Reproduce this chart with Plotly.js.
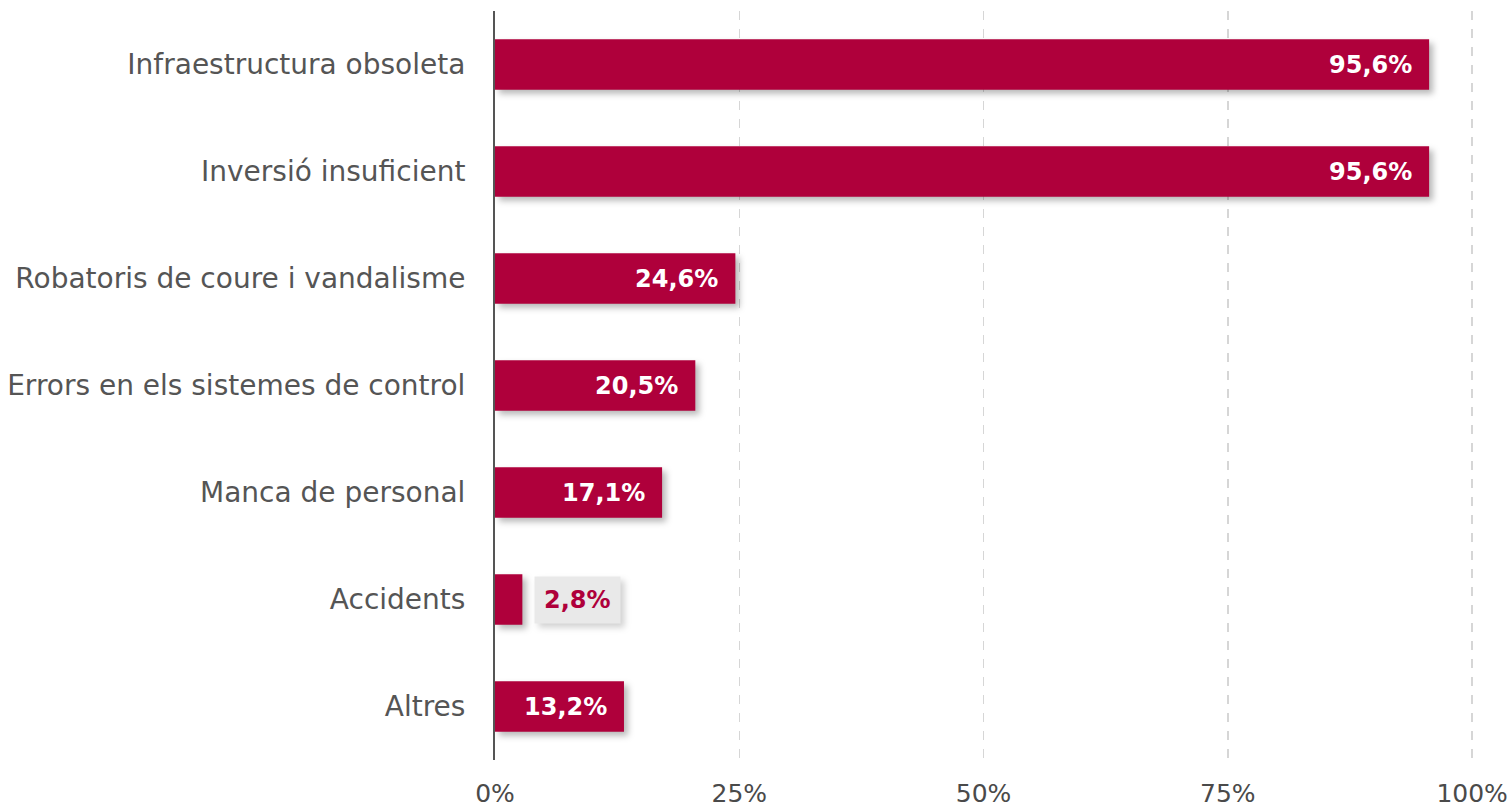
<!DOCTYPE html>
<html>
<head>
<meta charset="utf-8">
<script src="https://cdn.plot.ly/plotly-3.0.1.min.js"></script>
<style>
html,body{margin:0;padding:0;background:#fff;}
#chart{width:1510px;height:809px;}
.trace.bars path{filter:drop-shadow(4px 4px 3px rgba(0,0,0,0.28));}
.annotation.boxed rect{filter:drop-shadow(4px 4px 3px rgba(0,0,0,0.18));}
</style>
</head>
<body>
<div id="chart"></div>
<script>
const categories = ["Infraestructura obsoleta","Inversió insuficient","Robatoris de coure i vandalisme","Errors en els sistemes de control","Manca de personal","Accidents","Altres"];
const values = [95.6, 95.6, 24.6, 20.5, 17.1, 2.8, 13.2];
const labels = ["95,6%","95,6%","24,6%","20,5%","17,1%","2,8%","13,2%"];
const tickVals = [0, 25, 50, 75, 100];
const tickText = ["0%","25%","50%","75%","100%"];

const red = "#AF003B";
const FONT = "'DejaVu Sans', sans-serif";

const trace = {
  type: "bar",
  orientation: "h",
  x: values,
  y: categories,
  width: 0.47,
  marker: {color: red},
  hoverinfo: "none"
};

const annotations = values.map((v, i) => {
  const small = v < 5;
  return small ? {
    x: v, y: categories[i], xref: "x", yref: "y",
    text: "<b>" + labels[i] + "</b>",
    showarrow: false, xanchor: "left", xshift: 12,
    font: {family: FONT, size: 24, color: red},
    bgcolor: "#e9e9e9", borderpad: 9
  } : {
    x: v, y: categories[i], xref: "x", yref: "y",
    text: "<b>" + labels[i] + "</b>",
    showarrow: false, xanchor: "right", xshift: -15,
    font: {family: FONT, size: 24, color: "#ffffff"}
  };
});

const layout = {
  width: 1510, height: 809,
  margin: {l: 495, r: 33, t: 11, b: 49},
  paper_bgcolor: "#fff", plot_bgcolor: "#fff",
  showlegend: false,
  xaxis: {
    range: [0, 100.5],
    tickvals: tickVals, ticktext: tickText,
    showgrid: true, gridcolor: "#d6d6d6", griddash: "dash", gridwidth: 1.5,
    zeroline: false, showline: false,
    ticks: "", ticklabelstandoff: 16,
    tickfont: {family: FONT, size: 25, color: "#4a4a4a"},
    fixedrange: true
  },
  yaxis: {
    type: "category",
    autorange: "reversed",
    showline: true, linecolor: "#555", linewidth: 2,
    showgrid: false, zeroline: false,
    ticks: "", ticklabelstandoff: 22,
    tickfont: {family: FONT, size: 28, color: "#555555"},
    fixedrange: true
  },
  annotations: annotations
};

Plotly.newPlot("chart", [trace], layout, {displayModeBar: false, staticPlot: true}).then(() => {
  document.querySelectorAll(".annotation").forEach((g, i) => {
    if (values[i] < 5) g.classList.add("boxed");
  });
});
</script>
</body>
</html>
